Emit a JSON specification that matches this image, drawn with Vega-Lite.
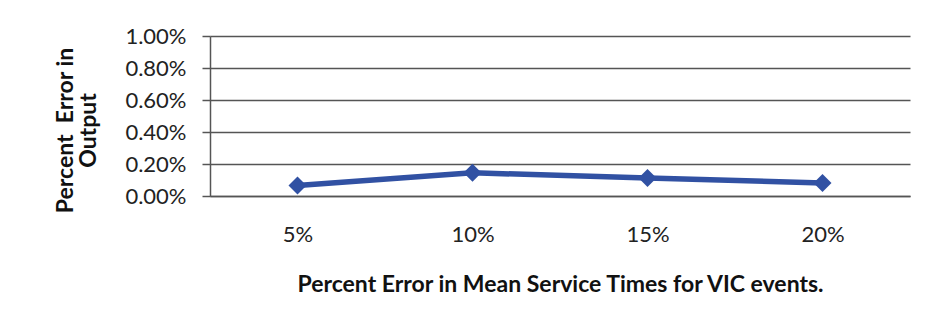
{
  "$schema": "https://vega.github.io/schema/vega-lite/v6.json",
  "width": 700,
  "height": 160,
  "autosize": "none",
  "padding": {"left": 210, "top": 36, "right": 15, "bottom": 139},
  "background": "white",
  "config": {
    "view": {"stroke": null},
    "font": "Lato"
  },
  "data": {
    "values": [
      {"error": "5%", "output": 0.00065},
      {"error": "10%", "output": 0.00145},
      {"error": "15%", "output": 0.00113},
      {"error": "20%", "output": 0.00081}
    ]
  },
  "encoding": {
    "x": {
      "field": "error",
      "type": "ordinal",
      "sort": null,
      "scale": {"paddingOuter": 0.5, "paddingInner": 0},
      "axis": {
        "title": "Percent Error in Mean Service Times for VIC events.",
        "titleFont": "Lato",
        "titleFontSize": 23,
        "titleFontWeight": "bold",
        "titleColor": "#111",
        "titlePadding": 28,
        "labelAngle": 0,
        "labelFont": "Lato",
        "labelFontSize": 22,
        "labelColor": "#222",
        "labelPadding": 28,
        "ticks": false,
        "domainColor": "#555",
        "domainWidth": 1.5
      }
    },
    "y": {
      "field": "output",
      "type": "quantitative",
      "scale": {"domain": [0, 0.01]},
      "axis": {
        "title": ["Percent\u00a0 Error in", "Output"],
        "titleFont": "Lato",
        "titleFontSize": 23,
        "titleFontWeight": "bold",
        "titleColor": "#111",
        "titleLineHeight": 23,
        "titlePadding": 24,
        "titleY": 94,
        "values": [0, 0.002, 0.004, 0.006, 0.008, 0.01],
        "format": ".2%",
        "labelFont": "Lato",
        "labelFontSize": 22,
        "labelColor": "#222",
        "labelPadding": 16,
        "tickSize": 8,
        "tickColor": "#555",
        "tickWidth": 1.5,
        "domainColor": "#555",
        "domainWidth": 1.5,
        "grid": true,
        "gridColor": "#555",
        "gridWidth": 1.5
      }
    }
  },
  "layer": [
    {"mark": {"type": "line", "color": "#3151a3", "strokeWidth": 5.5}},
    {"mark": {"type": "point", "shape": "diamond", "filled": true, "opacity": 1, "color": "#3151a3", "size": 324}}
  ]
}
